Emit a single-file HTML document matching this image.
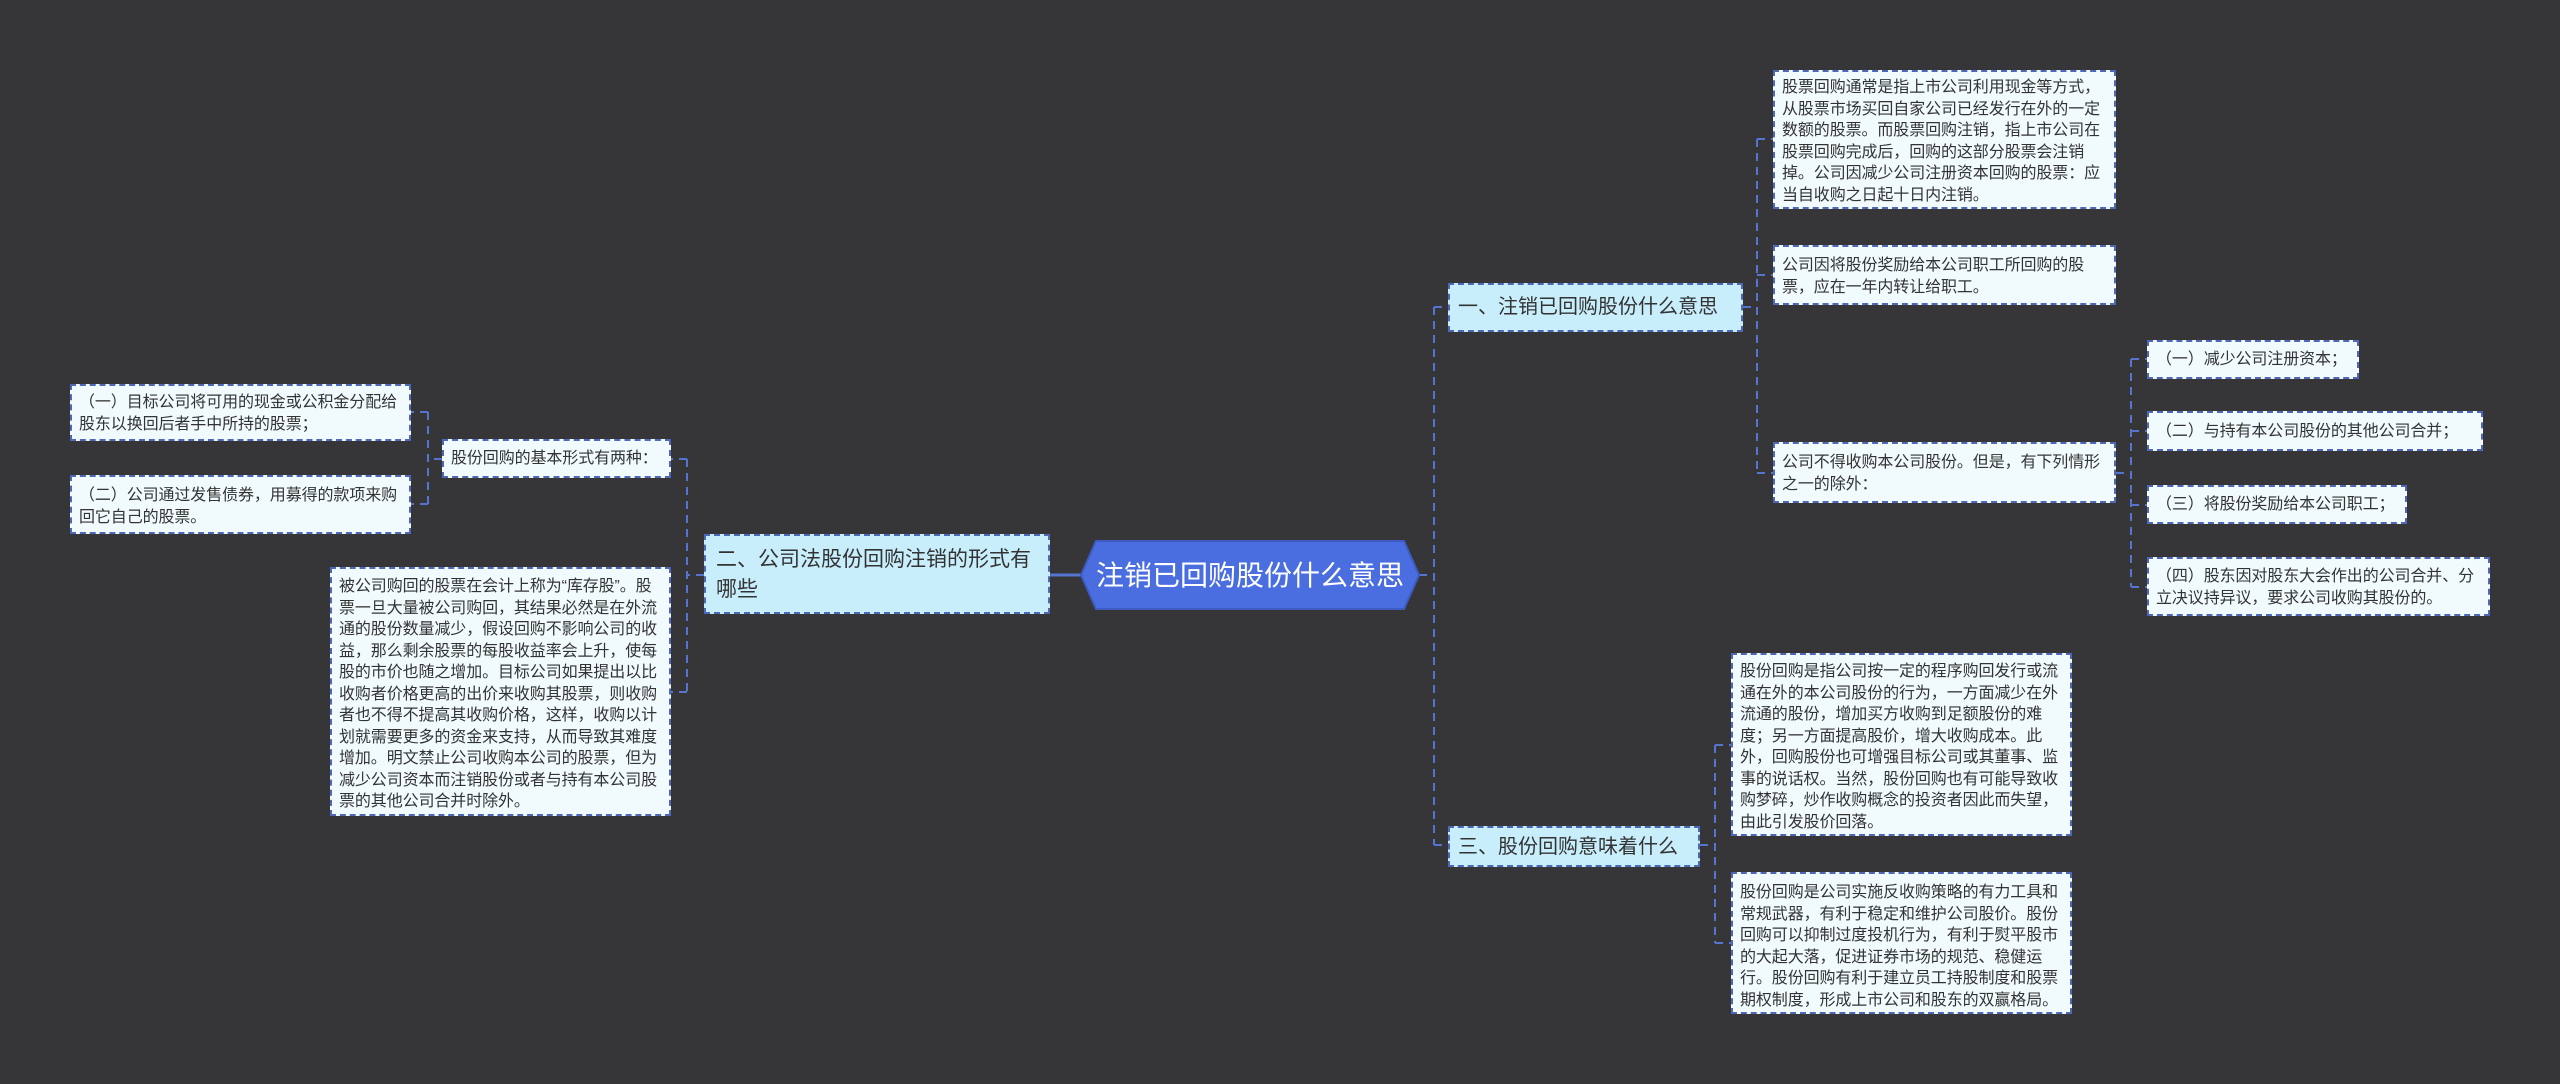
<!DOCTYPE html>
<html><head><meta charset="utf-8"><style>
html,body{margin:0;padding:0;}
body{width:2560px;height:1084px;background:#363538;position:relative;overflow:hidden;font-family:"Liberation Sans","Noto Sans CJK SC",sans-serif;}
.b{position:absolute;box-sizing:border-box;background:#f1fbfe;border:2px dashed #4e67b8;color:#333;font-size:16px;line-height:21.5px;padding:5px 5px 5px 7px;word-break:break-all;letter-spacing:-0.1px;}
.m{position:absolute;box-sizing:border-box;background:#c8eefc;border:2px dashed #4e67b8;color:#333;font-size:21px;line-height:30px;padding:8px 8px;white-space:nowrap;}
svg{position:absolute;left:0;top:0;}
</style></head><body>
<svg width="2560" height="1084">
<g stroke="#5474d0" stroke-width="2" stroke-dasharray="8,6" fill="none">
<path d="M1419 575H1434M1434 307V845M1434 307H1448M1434 845H1448"/>
<path d="M1743 307H1757M1757 139V473M1757 139H1773M1757 275H1773M1757 473H1773"/>
<path d="M2116 473H2131M2131 359V587M2131 359H2147M2131 431H2147M2131 505H2147M2131 587H2147"/>
<path d="M1700 845H1715M1715 745V943M1715 745H1731M1715 943H1731"/>
<path d="M704 575H687M687 459V692M687 459H671M687 692H671"/>
<path d="M442 459H428M428 412V504M428 412H411M428 504H411"/>
</g>
<path d="M1050 575H1081" stroke="#5474d0" stroke-width="3"/>
<polygon points="1096,541 1404,541 1419,575 1404,609 1096,609 1081,575" fill="#4a6ee0" stroke="#3d5bc0" stroke-width="2"/>
<text x="1250" y="585" fill="#fff" font-size="28" text-anchor="middle" font-family="Liberation Sans, Noto Sans CJK SC, sans-serif">注销已回购股份什么意思</text>
</svg>

<div class="m" style="left:1448px;top:283px;width:295px;height:49px;padding:7px 8px;font-size:20px;">一、注销已回购股份什么意思</div>
<div class="b" style="left:1773px;top:70px;width:343px;height:139px;">股票回购通常是指上市公司利用现金等方式，从股票市场买回自家公司已经发行在外的一定数额的股票。而股票回购注销，指上市公司在股票回购完成后，回购的这部分股票会注销掉。公司因减少公司注册资本回购的股票：应当自收购之日起十日内注销。</div>
<div class="b" style="left:1773px;top:245px;width:343px;height:60px;padding-top:8px;">公司因将股份奖励给本公司职工所回购的股票，应在一年内转让给职工。</div>
<div class="b" style="left:1773px;top:442px;width:343px;height:61px;padding-top:8px;">公司不得收购本公司股份。但是，有下列情形之一的除外：</div>
<div class="b" style="left:2147px;top:340px;width:212px;height:39px;padding-top:7px;">（一）减少公司注册资本；</div>
<div class="b" style="left:2147px;top:411px;width:336px;height:40px;padding-top:8px;">（二）与持有本公司股份的其他公司合并；</div>
<div class="b" style="left:2147px;top:485px;width:260px;height:39px;padding-top:7px;">（三）将股份奖励给本公司职工；</div>
<div class="b" style="left:2147px;top:557px;width:343px;height:59px;padding-top:7px;">（四）股东因对股东大会作出的公司合并、分立决议持异议，要求公司收购其股份的。</div>

<div class="m" style="left:704px;top:534px;width:346px;height:80px;padding:9px 10px;white-space:normal;">二、公司法股份回购注销的形式有哪些</div>
<div class="b" style="left:442px;top:439px;width:229px;height:39px;padding-top:7px;">股份回购的基本形式有两种：</div>
<div class="b" style="left:70px;top:384px;width:341px;height:57px;padding-top:6px;">（一）目标公司将可用的现金或公积金分配给股东以换回后者手中所持的股票；</div>
<div class="b" style="left:70px;top:475px;width:341px;height:59px;padding-top:8px;">（二）公司通过发售债券，用募得的款项来购回它自己的股票。</div>
<div class="b" style="left:330px;top:567px;width:341px;height:249px;padding-top:7px;">被公司购回的股票在会计上称为“库存股”。股票一旦大量被公司购回，其结果必然是在外流通的股份数量减少，假设回购不影响公司的收益，那么剩余股票的每股收益率会上升，使每股的市价也随之增加。目标公司如果提出以比收购者价格更高的出价来收购其股票，则收购者也不得不提高其收购价格，这样，收购以计划就需要更多的资金来支持，从而导致其难度增加。明文禁止公司收购本公司的股票，但为减少公司资本而注销股份或者与持有本公司股票的其他公司合并时除外。</div>

<div class="m" style="left:1448px;top:826px;width:252px;height:41px;padding:4px 8px;font-size:20px;">三、股份回购意味着什么</div>
<div class="b" style="left:1731px;top:653px;width:341px;height:183px;padding-top:6px;">股份回购是指公司按一定的程序购回发行或流通在外的本公司股份的行为，一方面减少在外流通的股份，增加买方收购到足额股份的难度；另一方面提高股价，增大收购成本。此外，回购股份也可增强目标公司或其董事、监事的说话权。当然，股份回购也有可能导致收购梦碎，炒作收购概念的投资者因此而失望，由此引发股价回落。</div>
<div class="b" style="left:1731px;top:872px;width:341px;height:142px;padding-top:8px;">股份回购是公司实施反收购策略的有力工具和常规武器，有利于稳定和维护公司股价。股份回购可以抑制过度投机行为，有利于熨平股市的大起大落，促进证券市场的规范、稳健运行。股份回购有利于建立员工持股制度和股票期权制度，形成上市公司和股东的双赢格局。</div>
</body></html>
